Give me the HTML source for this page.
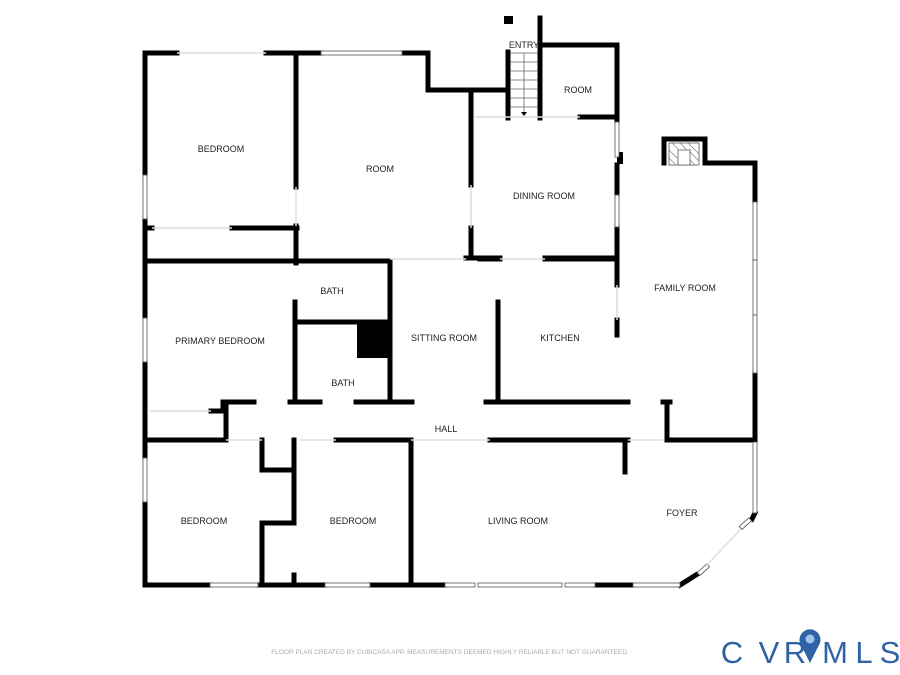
<!DOCTYPE html>
<html><head><meta charset="utf-8"><style>
html,body{margin:0;padding:0;background:#fff;}
svg{display:block;}
text{font-family:"Liberation Sans",sans-serif;}
</style></head><body>
<svg width="900" height="675" viewBox="0 0 900 675" xmlns="http://www.w3.org/2000/svg">
<g stroke="#000" stroke-width="5" fill="none" stroke-linecap="square">
<path d="M145 53 V175 M145 219 V318 M145 362 V458 M145 502 V585"/>
<path d="M145 53 H177 M266 53 H321 M402 53 H428 V90 H505"/>
<path d="M296 53 V187 M296 226 V263"/>
<path d="M145 228 H152 M232 228 H297"/>
<path d="M145 261 H390 V402"/>
<path d="M471 90 V185 M471 228 V258 M466 258 H500 M545 258 H617"/>
<path d="M508 52 V118 M540 18 V118 M540 45 H617 V122 M580 117 H617 M617 165 V195 M617 227 V285 M617 320 V335"/>
<rect x="617" y="152" width="6" height="12" fill="#000" stroke="none"/>
<path d="M664 163 V139 H705 V163 H755 V202 M755 373 V440 H667 V402 M663 402 H670"/>
<path d="M480 259 H500 M545 259 H617 M498 302 V402 M486 402 H628"/>
<path d="M223 411 V402 H254 M290 402 H320 M356 402 H412 M295 302 V402 M295 322 H390"/>
<path d="M145 440 H226 V402 M211 411 H226"/>
<path d="M262 440 V470 H294 M294 440 V523 H262 V585 M294 575 V582 M336 440 H411 V585 M490 440 H628 M625 440 V472"/>
<path d="M145 585 H210 M258 585 H325 M370 585 H445 M595 585 H633 M680 585 L696 575"/>
<path d="M755 513 L752 519"/>
</g>
<rect x="357" y="322" width="33" height="36" fill="#000"/>
<rect x="504" y="16" width="9" height="8" fill="#000"/>
<g stroke="#555" stroke-width="0.8" fill="#fff">
<rect x="143" y="175" width="4" height="44"/>
<rect x="143" y="318" width="4" height="44"/>
<rect x="143" y="458" width="4" height="44"/>
<rect x="321" y="51" width="81" height="4"/>
<rect x="615" y="122" width="4" height="35"/>
<rect x="615" y="195" width="4" height="32"/>
<rect x="753" y="202" width="4" height="58"/>
<rect x="753" y="260" width="4" height="55"/>
<rect x="753" y="315" width="4" height="58"/>
<rect x="753" y="442" width="4" height="71"/>
<rect x="210" y="583" width="48" height="4"/>
<rect x="325" y="583" width="45" height="4"/>
<rect x="445" y="583" width="30" height="4"/>
<rect x="478" y="583" width="84" height="4"/>
<rect x="565" y="583" width="30" height="4"/>
<rect x="633" y="583" width="47" height="4"/>
<rect x="697" y="568" width="13" height="4" transform="rotate(-42 703 570)"/>
<rect x="739" y="522" width="13" height="4" transform="rotate(-42 745 524)"/>
</g>
<g stroke="#ddd" stroke-width="1.5">
<path d="M177 53 H266 M152 228 H232 M475 117 H580 M500 259 H545 M390 259 H466 M617 285 V320 M226 440 H262 M300 440 H336 M411 440 H490 M628 440 H663 M150 411 H211 M705 567 L740 530 M296 187 V226 M471 185 V228"/>
</g>
<g stroke="#666" stroke-width="0.8">
<path d="M510 53 H538 M510 62 H538 M510 71 H538 M510 80 H538 M510 89 H538 M510 98 H538 M510 107 H538 M524 53 V113"/>
</g>
<path d="M521 112 L527 112 L524 116 Z" fill="#000"/>
<rect x="669" y="143" width="30" height="22" fill="#fff" stroke="#555" stroke-width="0.8"/>
<rect x="678" y="150" width="12" height="15" fill="#fff" stroke="#555" stroke-width="0.8"/>
<g stroke="#777" stroke-width="0.6"><path d="M669 150 L677 158 M669 158 L676 165 M672 143 L678 149 M680 143 L686 149 M688 143 L699 154 M690 152 L699 161 M690 160 L695 165"/></g>
<g font-size="9" fill="#222" text-anchor="middle">
<text x="221" y="152">BEDROOM</text>
<text x="380" y="172">ROOM</text>
<text x="524" y="48">ENTRY</text>
<text x="578" y="93">ROOM</text>
<text x="544" y="199">DINING ROOM</text>
<text x="685" y="291">FAMILY ROOM</text>
<text x="332" y="294">BATH</text>
<text x="220" y="344">PRIMARY BEDROOM</text>
<text x="343" y="386">BATH</text>
<text x="444" y="341">SITTING ROOM</text>
<text x="560" y="341">KITCHEN</text>
<text x="446" y="432">HALL</text>
<text x="204" y="524">BEDROOM</text>
<text x="353" y="524">BEDROOM</text>
<text x="518" y="524">LIVING ROOM</text>
<text x="682" y="516">FOYER</text>
</g>
<text x="450" y="654" font-size="6.5" fill="#aaa" text-anchor="middle">FLOOR PLAN CREATED BY CUBICASA APP. MEASUREMENTS DEEMED HIGHLY RELIABLE BUT NOT GUARANTEED.</text>
<g fill="#2f63a6" font-size="31" text-anchor="middle">
<text x="732" y="663">C</text>
<text x="769" y="663">V</text>
<text x="795" y="663">R</text>
<text x="835" y="663">M</text>
<text x="864" y="663">L</text>
<text x="890" y="663">S</text>
</g>
<path d="M810 663 L800 643 A10.5 10.5 0 1 1 820 643 Z" fill="#2f63a6"/>
<circle cx="810" cy="639" r="4.5" fill="#9fc3ea"/>
</svg>
</body></html>
